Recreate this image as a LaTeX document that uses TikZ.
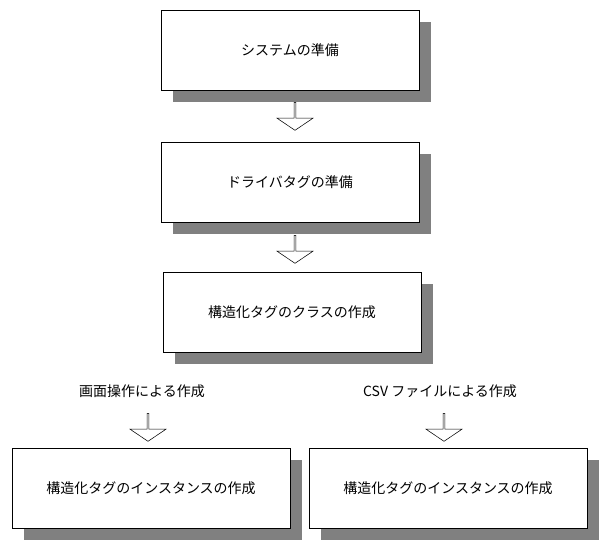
\documentclass[tikz,border=0pt]{standalone}
\usepackage{fontspec}
\setmainfont{Noto Sans CJK JP}
\usetikzlibrary{shapes.arrows}
\tikzset{
  stepbox/.style={draw,fill=white,minimum width=193.5pt,minimum height=60pt,inner sep=0pt,
    font=\fontsize{10.5}{12}\selectfont},
  shadowbox/.style={fill=black!50,minimum width=193.5pt,minimum height=60pt,inner sep=0pt},
  downarrow/.style={draw,single arrow,rotate=-90,minimum height=21pt,minimum width=27pt,
    single arrow head extend=3.75pt,single arrow head indent=0pt,single arrow tip angle=112,inner sep=0pt},
  caption/.style={font=\fontsize{10.5}{12}\selectfont,inner sep=0pt}
}
\begin{document}
\begin{tikzpicture}[x=0.75pt,y=0.75pt,yscale=-1,xscale=1]
\useasboundingbox (0,0) rectangle (611,549);
% shadows
\node[shadowbox] at (302,62) {};
\node[shadowbox] at (302,194) {};
\node[shadowbox] at (304,324) {};
\node[shadowbox,minimum width=208.5pt] at (163,500) {};
\node[shadowbox,minimum width=208.5pt] at (460,500) {};
% boxes
\node[stepbox] (sys) at (290,50) {システムの準備};
\node[stepbox] (drv) at (290,182) {ドライバタグの準備};
\node[stepbox] (cls) at (292,312) {構造化タグのクラスの作成};
\node[stepbox,minimum width=208.5pt] (insa) at (151,488) {構造化タグのインスタンスの作成};
\node[stepbox,minimum width=208.5pt] (insb) at (448,488) {構造化タグのインスタンスの作成};
% captions
\node[caption] (gui) at (142,391) {画面操作による作成};
\node[caption] (csv) at (440,391) {CSV ファイルによる作成};
% arrows
\node[downarrow] (a1) at (295,116) {};
\node[downarrow] (a2) at (295,249) {};
\node[downarrow] (a3) at (148,427) {};
\node[downarrow] (a4) at (444,427) {};
\end{tikzpicture}
\end{document}
